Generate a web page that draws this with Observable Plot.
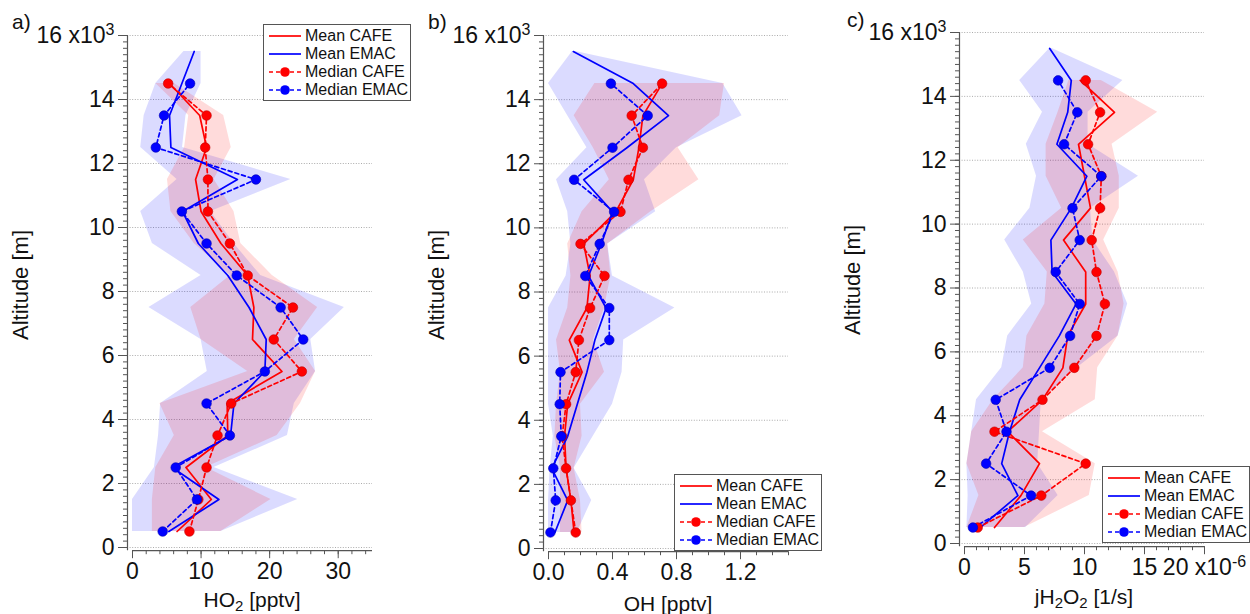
<!DOCTYPE html>
<html><head><meta charset="utf-8">
<script src="https://cdn.jsdelivr.net/npm/d3@7"></script>
<script src="https://cdn.jsdelivr.net/npm/@observablehq/plot@0.6"></script>
<style>
body{margin:0;background:#fff;font-family:"Liberation Sans",Arial,sans-serif;}
#wrap{position:relative;width:1250px;height:614px;overflow:hidden;background:#fff;}
.panel{position:absolute;top:0;}
.lbl{position:absolute;color:#111;white-space:nowrap;line-height:22px;font-size:21px;}
.ytitle{position:absolute;color:#111;white-space:nowrap;font-size:22px;line-height:22px;transform:translate(-50%,-50%) rotate(-90deg);}
.xtitle{position:absolute;color:#111;white-space:nowrap;font-size:21px;line-height:21px;transform:translateX(-50%);}
.xtitle sub{font-size:15px;vertical-align:-4px;line-height:0;}
.legend{position:absolute;border:1px solid #555;background:#fff;font-size:16px;color:#111;box-sizing:border-box;}
.legend .row{position:absolute;left:0;height:18px;line-height:18px;width:100%;}
.legend svg{position:absolute;left:4px;top:3px;}
.legend span{position:absolute;left:41px;top:0;}
</style></head>
<body><div id="wrap"></div>
<script>
// ---------- data ----------
const altitude = [0.5,1.5,2.5,3.5,4.5,5.5,6.5,7.5,8.5,9.5,10.5,11.5,12.5,13.5,14.5];          // x10^3 m
const altitudeEMAC = [0.5,1.5,2.5,3.5,4.5,5.5,6.5,7.5,8.5,9.5,10.5,11.5,12.5,13.5,14.5,15.5];
const yTicks = [0,2,4,6,8,10,12,14,16];
const seriesNames = ["Mean CAFE","Mean EMAC","Median CAFE","Median EMAC"];

// HO2 [pptv]
const ho2MeanCAFE   = [6.5,11.5,7.8,13.9,13.8,21.8,17.5,17.7,16.8,12.9,10.0,9.2,10.8,9.8,5.4];
const ho2MeanEMAC   = [5.3,12.6,5.8,14.3,14.8,19.3,19.5,17.0,13.9,9.6,7.3,15.3,5.6,5.4,7.2,9.0];
const ho2MedianCAFE = [8.3,9.6,10.8,12.4,14.4,24.7,20.6,23.4,16.8,14.2,11.0,11.0,10.6,10.8,5.2];
const ho2MedianEMAC = [4.4,9.4,6.3,14.2,10.8,19.3,24.9,21.6,15.2,10.8,7.2,18.0,3.4,4.6,8.4];
const ho2CAFELow    = [2.9,2.9,3.4,6.1,4.0,16.8,10.0,8.5,14.3,9.0,5.6,5.1,7.6,8.2,3.4];
const ho2CAFEHigh   = [12.9,20.2,10.7,21.1,24.5,26.7,23.6,27.0,20.4,15.8,14.8,11.9,14.4,13.3,6.1];
const ho2EMACLow    = [0.0,0.0,3.2,3.8,4.1,10.9,10.0,2.4,10.0,2.9,1.2,6.5,1.2,1.7,3.4,7.5];
const ho2EMACHigh   = [12.9,24.1,11.9,22.6,23.6,26.7,26.0,30.9,18.7,14.8,11.4,23.1,7.3,7.8,10.0,10.0];
const ho2Ticks = [0,10,20,30];

// OH [pptv]
const ohMeanCAFE   = [0.16,0.14,0.11,0.10,0.12,0.21,0.13,0.24,0.26,0.22,0.42,0.53,0.565,0.59,0.71];
const ohMeanEMAC   = [0.04,0.12,0.02,0.12,0.18,0.24,0.29,0.36,0.25,0.33,0.40,0.22,0.49,0.75,0.53,0.155];
const ohMedianCAFE = [0.17,0.14,0.11,0.085,0.11,0.17,0.19,0.26,0.35,0.20,0.45,0.50,0.59,0.52,0.71];
const ohMedianEMAC = [0.012,0.045,0.03,0.08,0.07,0.075,0.38,0.38,0.23,0.32,0.41,0.16,0.40,0.62,0.39];
const ohCAFELow    = [0.075,0.075,0.075,0.04,0.05,0.075,0.05,0.12,0.14,0.12,0.21,0.38,0.28,0.16,0.29];
const ohCAFEHigh   = [0.21,0.20,0.16,0.21,0.20,0.35,0.28,0.35,0.39,0.37,0.64,0.94,0.81,1.07,1.10];
const ohEMACLow    = [0.0,0.0,0.01,0.03,0.0,0.0,0.0,0.0,0.11,0.14,0.12,0.05,0.24,0.12,0.0,0.15];
const ohEMACHigh   = [0.18,0.27,0.16,0.28,0.40,0.46,0.47,0.79,0.40,0.37,0.67,0.60,0.80,1.21,1.09,0.17];
const ohTicks = [0,0.4,0.8,1.2];

// jH2O2 [1/s] (x10^-6)
const jMeanCAFE   = [2.5,4.7,6.25,3.6,6.5,8.2,8.6,10.1,10.1,8.25,10.5,10.0,9.5,12.5,9.65];
const jMeanEMAC   = [1.3,4.45,3.1,3.75,4.6,6.25,7.9,9.3,7.3,7.2,8.9,10.2,7.7,8.6,8.9,7.1];
const jMedianCAFE = [1.1,6.4,10.1,2.5,6.5,9.15,11.0,11.7,11.0,10.6,11.3,11.4,10.3,11.3,10.1];
const jMedianEMAC = [0.7,5.55,1.8,3.5,2.6,7.1,8.8,9.6,7.6,9.6,9.0,11.4,8.3,9.4,7.8];
const jCAFELow    = [0.2,1.2,0.2,0.6,2.4,4.9,5.2,6.7,6.9,4.9,8.1,6.8,6.8,7.8,8.7];
const jCAFEHigh   = [5.0,10.4,10.9,6.5,10.9,11.1,12.8,13.3,12.8,11.6,12.9,12.9,12.3,16.1,11.4];
const jEMACLow    = [0.2,0.3,0.2,0.6,1.0,3.1,3.6,5.6,4.9,3.35,5.45,6.0,5.15,6.5,4.6,7.1];
const jEMACHigh   = [5.1,7.8,6.1,6.25,6.4,9.4,12.8,13.6,12.5,10.7,10.5,14.5,10.3,10.3,13.2,7.3];
const jTicks = [0,5,10,15,20];

// ---------- drawing ----------
const RED = "#ff0000", BLUE = "#0000ff";
const FONT = '"Liberation Sans", Arial, sans-serif';

function panel(o) {
  const xMin = -5 * o.xMax / 240;
  const yMin = -0.1;
  const pxY = (o.y0 - o.y16) / 16;
  const bottom = o.y0 + 0.1 * pxY;
  const cafe = altitude.map((a, i) => ({alt: a, mean: o.meanCAFE[i], med: o.medCAFE[i], lo: o.cafeLo[i], hi: o.cafeHi[i]}));
  const emac = altitudeEMAC.map((a, i) => ({alt: a, mean: o.meanEMAC[i], med: o.medEMAC[i], lo: o.emacLo[i], hi: o.emacHi[i]}));
  const emacMed = emac.filter(d => d.med != null);
  const svg = Plot.plot({
    width: 416, height: 614,
    marginLeft: 127, marginRight: 44, marginTop: o.y16, marginBottom: 614 - bottom,
    x: {domain: [xMin, o.xMax], label: null},
    y: {domain: [yMin, 16], label: null},
    style: {fontFamily: FONT, fontSize: "23px", color: "#111", background: "transparent", overflow: "visible"},
    marks: [
      Plot.gridY(yTicks, {stroke: "#8a8a8a", strokeOpacity: 0.9, strokeDasharray: "1,1.6", strokeWidth: 0.8}),
      Plot.areaX(emac, {y: "alt", x1: "lo", x2: "hi", fill: BLUE, fillOpacity: 0.14}),
      Plot.areaX(cafe, {y: "alt", x1: "lo", x2: "hi", fill: RED, fillOpacity: 0.14}),
      Plot.lineX(cafe, {x: "mean", y: "alt", stroke: RED, strokeWidth: 1.7}),
      Plot.lineX(emac, {x: "mean", y: "alt", stroke: BLUE, strokeWidth: 1.7}),
      Plot.lineX(cafe, {x: "med", y: "alt", stroke: RED, strokeWidth: 1.7, strokeDasharray: "4,3"}),
      Plot.lineX(emacMed, {x: "med", y: "alt", stroke: BLUE, strokeWidth: 1.7, strokeDasharray: "4,3"}),
      Plot.dot(cafe, {x: "med", y: "alt", r: 4.8, fill: RED, stroke: "#c00000", strokeWidth: 0.6}),
      Plot.dot(emacMed, {x: "med", y: "alt", r: 4.8, fill: BLUE, stroke: "#0000b0", strokeWidth: 0.6}),
      Plot.ruleX([xMin], {y1: yMin, y2: 16, stroke: "#555", strokeWidth: 1.2}),
      Plot.ruleY([yMin], {x1: 0, x2: o.xMax, stroke: "#555", strokeWidth: 1.2}),
      Plot.axisY({ticks: d3.range(0, 16.001, 0.2), tickSize: 4, text: null, stroke: "#555", label: null}),
      Plot.axisY({ticks: yTicks, tickSize: 9, tickPadding: 4, stroke: "#555", fill: "#111",
                  tickFormat: d => d === 16 ? "16 x10^3" : String(d), label: null}),
      Plot.axisX({ticks: o.xMinor, tickSize: 4, text: null, stroke: "#555", label: null}),
      Plot.axisX({ticks: o.xTicks, tickSize: 8, tickPadding: 4, stroke: "#555", fill: "#111",
                  tickFormat: o.xFmt, label: null})
    ]
  });
  // superscripts for "x10^n" labels
  const ns = "http://www.w3.org/2000/svg";
  svg.querySelectorAll("text").forEach(t => {
    const m = t.textContent.match(/^(.*)\^(.+)$/);
    if (m) {
      t.textContent = "";
      const a = document.createElementNS(ns, "tspan"); a.textContent = m[1];
      const b = document.createElementNS(ns, "tspan"); b.textContent = m[2];
      b.setAttribute("dy", "-0.5em"); b.setAttribute("font-size", "16");
      t.append(a, b);
    }
  });
  svg.classList.add("panel");
  svg.style.left = o.left + "px";
  return svg;
}

const wrap = document.getElementById("wrap");
wrap.append(panel({left: 0, y16: 35, y0: 547, xMax: 35, xTicks: ho2Ticks, xMinor: d3.range(0, 35, 2), xFmt: d => String(d),
  meanCAFE: ho2MeanCAFE, meanEMAC: ho2MeanEMAC, medCAFE: ho2MedianCAFE, medEMAC: ho2MedianEMAC,
  cafeLo: ho2CAFELow, cafeHi: ho2CAFEHigh, emacLo: ho2EMACLow, emacHi: ho2EMACHigh}));
wrap.append(panel({left: 416, y16: 35, y0: 548, xMax: 1.5, xTicks: ohTicks, xMinor: d3.range(0, 1.501, 0.1), xFmt: d3.format(".1f"),
  meanCAFE: ohMeanCAFE, meanEMAC: ohMeanEMAC, medCAFE: ohMedianCAFE, medEMAC: ohMedianEMAC,
  cafeLo: ohCAFELow, cafeHi: ohCAFEHigh, emacLo: ohEMACLow, emacHi: ohEMACHigh}));
wrap.append(panel({left: 832, y16: 32, y0: 543, xMax: 20, xTicks: jTicks, xMinor: d3.range(0, 20.01, 1), xFmt: d => d === 20 ? "20 x10^-6" : String(d),
  meanCAFE: jMeanCAFE, meanEMAC: jMeanEMAC, medCAFE: jMedianCAFE, medEMAC: jMedianEMAC,
  cafeLo: jCAFELow, cafeHi: jCAFEHigh, emacLo: jEMACLow, emacHi: jEMACHigh}));

// ---------- titles & legends ----------
function addDiv(cls, html, style) {
  const d = document.createElement("div");
  d.className = cls; d.innerHTML = html; Object.assign(d.style, style);
  wrap.append(d); return d;
}
[["a)", 12, 11], ["b)", 428, 11], ["c)", 847, 9]].forEach(([t, x, y]) => addDiv("lbl", t, {left: x + "px", top: y + "px"}));
[[21, 285], [437, 285], [853, 280]].forEach(([x, y]) => addDiv("ytitle", "Altitude [m]", {left: x + "px", top: y + "px"}));
addDiv("xtitle", "HO<sub>2</sub> [pptv]", {left: "252px", top: "589px"});
addDiv("xtitle", "OH [pptv]", {left: "668px", top: "593px"});
addDiv("xtitle", "jH<sub>2</sub>O<sub>2</sub> [1/s]", {left: "1084px", top: "586px"});

function legend(x, y) {
  const L = addDiv("legend", "", {left: x + "px", top: y + "px", width: "148px", height: "77px"});
  const styles = [[RED, null, false], [BLUE, null, false], [RED, "4,3", true], [BLUE, "4,3", true]];
  seriesNames.forEach((name, i) => {
    const [c, dash, dot] = styles[i];
    const row = document.createElement("div");
    row.className = "row"; row.style.top = (2 + 18 * i) + "px";
    row.innerHTML = `<svg width="34" height="12"><line x1="1" x2="33" y1="6" y2="6" stroke="${c}" stroke-width="1.7" ${dash ? `stroke-dasharray="${dash}"` : ""}/>` +
      (dot ? `<circle cx="17" cy="6" r="4.8" fill="${c}"/>` : "") + `</svg><span>${name}</span>`;
    L.append(row);
  });
}
legend(263, 24);
legend(674, 474);
legend(1102, 466);
</script>
</body></html>
